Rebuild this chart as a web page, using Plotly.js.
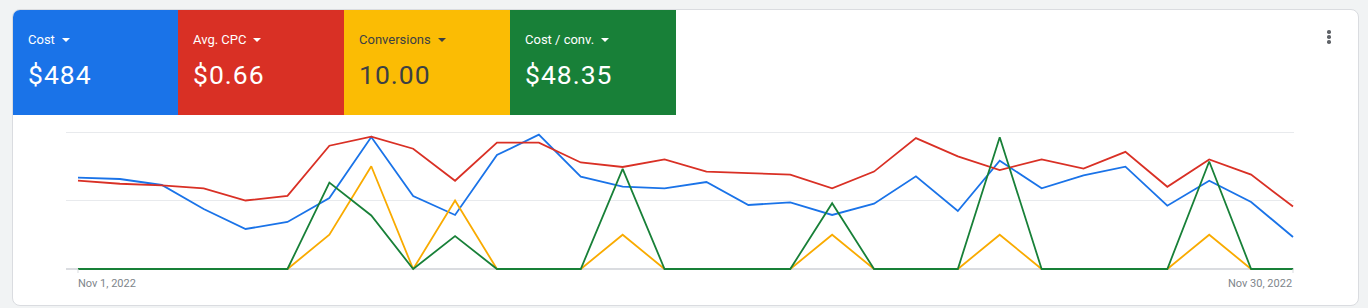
<!DOCTYPE html>
<html>
<head>
<meta charset="utf-8">
<script src="https://cdn.plot.ly/plotly-3.0.1.min.js"></script>
<style>
  html, body { margin: 0; padding: 0; width: 1368px; height: 308px; background: #f1f3f4; overflow: hidden; font-family: Roboto, "Noto Sans", Arial, sans-serif; }
  #card { position: absolute; left: 12px; top: 9px; width: 1347px; height: 297px; box-sizing: border-box; border: 1px solid #dadce0; border-radius: 8px; background: #fff; overflow: hidden; }
  #tiles { position: absolute; left: 0; top: 0; height: 105px; display: flex; }
  .tile { position: relative; height: 105px; color: #fff; }
  .tile .t { position: absolute; left: 15px; top: 22px; font-size: 13px; line-height: 16px; font-weight: 400; white-space: nowrap; }
  .tile .v { position: absolute; left: 15px; top: 50px; font-size: 26.5px; line-height: 30px; letter-spacing: 1px; white-space: nowrap; }
  .arrow { display: inline-block; width: 0; height: 0; border-left: 4.5px solid transparent; border-right: 4.5px solid transparent; border-top: 4.5px solid currentColor; vertical-align: middle; margin-left: 7px; position: relative; top: -1px; }
  #menu { position: absolute; left: 1327px; top: 30px; width: 4px; }
  #menu span { display: block; width: 3.5px; height: 3.5px; border-radius: 50%; background: #5f6368; margin-bottom: 1.7px; }
  #chart { position: absolute; left: 0; top: 0; width: 1368px; height: 308px; }
</style>
</head>
<body>
<div id="card">
  <div id="tiles"></div>
</div>
<div id="menu"><span></span><span></span><span></span></div>
<div id="chart"></div>
<script>
// ---- data ----
const dates = ['2022-11-01','2022-11-02','2022-11-03','2022-11-04','2022-11-05','2022-11-06','2022-11-07','2022-11-08','2022-11-09','2022-11-10',
               '2022-11-11','2022-11-12','2022-11-13','2022-11-14','2022-11-15','2022-11-16','2022-11-17','2022-11-18','2022-11-19','2022-11-20',
               '2022-11-21','2022-11-22','2022-11-23','2022-11-24','2022-11-25','2022-11-26','2022-11-27','2022-11-28','2022-11-29','2022-11-30'];
const cost = [18.66, 18.39, 17.17, 12.26, 8.18, 9.61, 14.51, 26.98, 14.92, 11.04,
              23.30, 27.45, 18.86, 16.82, 16.49, 17.78, 13.08, 13.63, 11.04, 13.35,
              18.95, 11.85, 22.13, 16.49, 19.15, 20.91, 12.94, 18.05, 13.69, 6.54];
const avgCpc = [0.58, 0.56, 0.55, 0.53, 0.45, 0.48, 0.81, 0.87, 0.79, 0.58,
                0.83, 0.83, 0.70, 0.67, 0.72, 0.64, 0.63, 0.62, 0.53, 0.64,
                0.86, 0.74, 0.65, 0.72, 0.66, 0.77, 0.54, 0.72, 0.62, 0.41];
const conversions = [0, 0, 0, 0, 0, 0, 1, 3, 0, 2,
                     0, 0, 0, 1, 0, 0, 0, 0, 1, 0,
                     0, 0, 1, 0, 0, 0, 0, 1, 0, 0];
const costPerConv = [0, 0, 0, 0, 0, 0, 14.51, 8.99, 0, 5.52,
                     0, 0, 0, 16.82, 0, 0, 0, 0, 11.04, 0,
                     0, 0, 22.13, 0, 0, 0, 0, 18.05, 0, 0];
const metricNames = ['Cost', 'Avg. CPC', 'Conversions', 'Cost / conv.'];
const metricTotals = ['$484', '$0.66', '10.00', '$48.35'];
const startLabel = 'Nov 1, 2022';
const endLabel = 'Nov 30, 2022';

// ---- styles ----
const colors = ['#1a73e8', '#d93025', '#f9ab00', '#188038'];
const tileColors = ['#1a73e8', '#d93025', '#fbbc04', '#188038'];
const tileText = ['#ffffff', '#ffffff', '#3c4043', '#ffffff'];
const tileWidths = [165, 166, 166, 166];

const tiles = document.getElementById('tiles');
metricNames.forEach((name, i) => {
  const d = document.createElement('div');
  d.className = 'tile';
  d.style.width = tileWidths[i] + 'px';
  d.style.background = tileColors[i];
  d.style.color = tileText[i];
  d.innerHTML = '<div class="t">' + name + '<span class="arrow"></span></div><div class="v">' + metricTotals[i] + '</div>';
  tiles.appendChild(d);
});

const PAD = 4 / 137;
function rng(top) { return [-top * PAD, top * (1 + PAD)]; }

const series = [cost, avgCpc, conversions, costPerConv];
const axisTops = [28, 0.9, 4, 23];
const traces = series.map((s, i) => ({
  x: dates, y: s, type: 'scatter', mode: 'lines',
  yaxis: i === 0 ? 'y' : 'y' + (i + 1),
  line: { color: colors[i], width: 1.8 },
  hoverinfo: 'skip', showlegend: false
}));

const layout = {
  width: 1368, height: 308,
  margin: { l: 66, r: 74, t: 128, b: 35 },
  paper_bgcolor: 'rgba(0,0,0,0)', plot_bgcolor: 'rgba(0,0,0,0)',
  font: { family: 'Roboto, sans-serif', size: 11, color: '#80868b' },
  xaxis: {
    type: 'date', range: ['2022-10-31 17:08', '2022-11-30 00:34'],
    showgrid: false, zeroline: false, showline: false, showticklabels: false, ticks: ''
  },
  yaxis: {
    range: rng(axisTops[0]), tickvals: [0, 14, 28], showticklabels: false,
    showgrid: true, gridcolor: '#e8eaed', gridwidth: 1,
    zeroline: true, zerolinecolor: '#dadce0', zerolinewidth: 1.2, showline: false, ticks: ''
  },
  yaxis2: { overlaying: 'y', range: rng(axisTops[1]), visible: false },
  yaxis3: { overlaying: 'y', range: rng(axisTops[2]), visible: false },
  yaxis4: { overlaying: 'y', range: rng(axisTops[3]), visible: false },
  shapes: [dates[0], dates[dates.length - 1]].map(d => ({
    type: 'line', xref: 'x', yref: 'y', ysizemode: 'pixel', yanchor: 0,
    x0: d, x1: d, y0: 0, y1: -6, line: { color: '#dadce0', width: 1 }
  })),
  annotations: [
    { x: dates[0], y: 0, xref: 'x', yref: 'y', text: startLabel, showarrow: false,
      xanchor: 'left', yanchor: 'middle', yshift: -14.5, xshift: -2,
      font: { family: 'Roboto, sans-serif', size: 11, color: '#80868b' } },
    { x: dates[dates.length - 1], y: 0, xref: 'x', yref: 'y', text: endLabel, showarrow: false,
      xanchor: 'right', yanchor: 'middle', yshift: -14.5, xshift: 1,
      font: { family: 'Roboto, sans-serif', size: 11, color: '#80868b' } }
  ]
};

Plotly.newPlot('chart', traces, layout, { staticPlot: true, displayModeBar: false });
</script>
</body>
</html>
